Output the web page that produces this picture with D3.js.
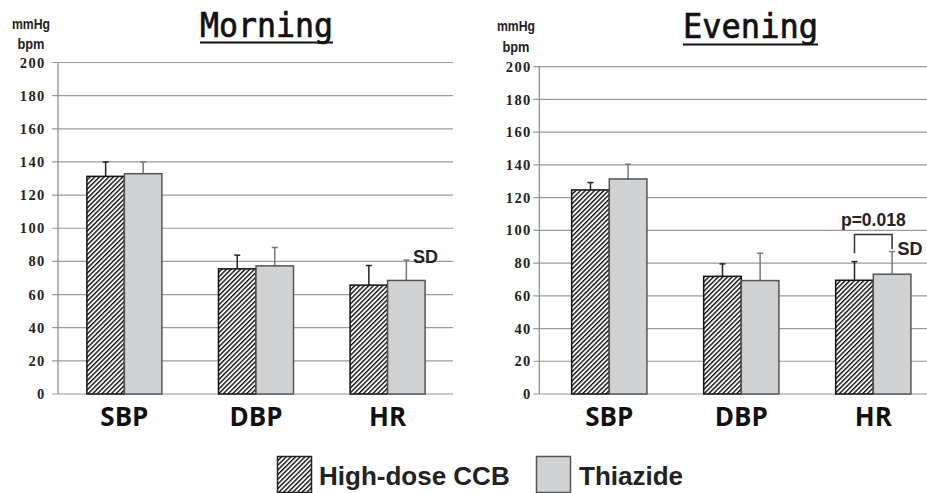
<!DOCTYPE html>
<html><head><meta charset="utf-8">
<script src="https://cdn.jsdelivr.net/npm/d3@7"></script>
<style>body{margin:0;background:#fff}svg{display:block}</style>
</head><body>
<script>
// ---- data ----
const categories = ["SBP", "DBP", "HR"];
const seriesNames = ["High-dose CCB", "Thiazide"];
const yTicks = [0, 20, 40, 60, 80, 100, 120, 140, 160, 180, 200];
const morningCCB = [131.3, 75.5, 65.7];
const morningCCBsd = [8.7, 8.3, 11.8];
const morningThz = [132.9, 77.3, 68.5];
const morningThzSd = [7.1, 11.1, 12.3];
const eveningCCB = [124.7, 71.9, 69.5];
const eveningCCBsd = [4.5, 7.6, 11.4];
const eveningThz = [131.4, 69.3, 73.2];
const eveningThzSd = [9.0, 16.7, 13.8];
const pLabel = "p=0.018";

const W = 927, H = 493;
const svg = d3.select("body").append("svg").attr("width", W).attr("height", H);
const defs = svg.append("defs");
const pat = defs.append("pattern").attr("id", "hatch").attr("patternUnits", "userSpaceOnUse")
  .attr("width", 3.3).attr("height", 10).attr("patternTransform", "rotate(45)");
pat.append("rect").attr("width", 3.3).attr("height", 10).attr("fill", "#fff");
pat.append("line").attr("x1", 0.7).attr("x2", 0.7).attr("y1", 0).attr("y2", 10)
  .attr("stroke", "#111").attr("stroke-width", 1.4);

const grayFill = "#d1d2d4";
const serifFont = "Liberation Serif, Times New Roman, DejaVu Serif, serif";
const narrowFont = "Liberation Sans Narrow, Arial Narrow, Liberation Sans, sans-serif";
const sansFont = "Liberation Sans, Arial, sans-serif";

const panels = [
  {title: "Morning", ccb: morningCCB, ccbSd: morningCCBsd, thz: morningThz, thzSd: morningThzSd,
   axisX: 58, gridEnd: 453, top: 62.5, bottom: 394, xr: [58.6, 453.4], tickX: 44,
   unitX: 31, unitY1: 29, unitY2: 50, titleX: 200, titleW: 133, titleY: 37, ulY: 42.5,
   sd: {x: 413, y: 263}},
  {title: "Evening", ccb: eveningCCB, ccbSd: eveningCCBsd, thz: eveningThz, thzSd: eveningThzSd,
   axisX: 539.3, gridEnd: 927, top: 66.7, bottom: 394, xr: [543.3, 939.3], tickX: 530,
   unitX: 516, unitY1: 31, unitY2: 53, titleX: 683, titleW: 135, titleY: 38, ulY: 44.5,
   sd: {x: 897.5, y: 254.5}, p: true}
];

panels.forEach(P => {
  const g = svg.append("g");
  const y = d3.scaleLinear().domain([0, 200]).range([P.bottom, P.top]);
  const x = d3.scaleBand().domain(categories).range(P.xr).paddingInner(0.43).paddingOuter(0.215);
  const xi = d3.scaleBand().domain(seriesNames).range([0, x.bandwidth()]);

  g.selectAll(".grid").data(yTicks).join("line")
    .attr("x1", P.axisX - 6).attr("x2", P.gridEnd)
    .attr("y1", d => y(d)).attr("y2", d => y(d))
    .attr("stroke", "#9a9a9a").attr("stroke-width", 1.2);
  g.append("line").attr("x1", P.axisX).attr("x2", P.axisX).attr("y1", P.top).attr("y2", P.bottom)
    .attr("stroke", "#888").attr("stroke-width", 1.2);
  g.selectAll(".tl").data(yTicks).join("text")
    .attr("x", P.tickX + 1.5).attr("y", d => y(d)).attr("dy", "0.35em")
    .attr("text-anchor", "end")
    .attr("font-family", serifFont).attr("font-weight", "bold")
    .attr("font-size", 14.5).attr("letter-spacing", "1.3px").attr("fill", "#222")
    .text(d => d);
  g.append("text").attr("x", P.unitX).attr("y", P.unitY1).attr("text-anchor", "middle")
    .attr("font-family", narrowFont).attr("font-weight", "bold")
    .attr("font-size", 15).attr("textLength", 38).attr("lengthAdjust", "spacingAndGlyphs")
    .attr("fill", "#222").text("mmHg");
  g.append("text").attr("x", P.unitX).attr("y", P.unitY2 - 1).attr("text-anchor", "middle")
    .attr("font-family", narrowFont).attr("font-weight", "bold")
    .attr("font-size", 15).attr("textLength", 27).attr("lengthAdjust", "spacingAndGlyphs")
    .attr("fill", "#222").text("bpm");
  g.append("text").attr("x", P.titleX).attr("y", P.titleY)
    .attr("font-family", "DejaVu Sans Mono, monospace").attr("font-size", 33)
    .attr("textLength", P.titleW).attr("lengthAdjust", "spacingAndGlyphs")
    .attr("fill", "#111").attr("stroke", "#111").attr("stroke-width", 0.7).text(P.title);
  g.append("line").attr("x1", P.titleX).attr("x2", P.titleX + P.titleW)
    .attr("y1", P.ulY).attr("y2", P.ulY).attr("stroke", "#111").attr("stroke-width", 2);

  const rows = categories.map((c, i) => ({c, i}));
  const series = [
    {name: seriesNames[0], vals: P.ccb, sd: P.ccbSd, fill: "url(#hatch)", stroke: "#111", ebar: "#222"},
    {name: seriesNames[1], vals: P.thz, sd: P.thzSd, fill: grayFill, stroke: "#555", ebar: "#777"}
  ];
  series.forEach(s => {
    g.selectAll(null).data(rows).join("line")
      .attr("x1", d => x(d.c) + xi(s.name) + xi.bandwidth() / 2)
      .attr("x2", d => x(d.c) + xi(s.name) + xi.bandwidth() / 2)
      .attr("y1", d => y(s.vals[d.i])).attr("y2", d => y(s.vals[d.i] + s.sd[d.i]))
      .attr("stroke", s.ebar).attr("stroke-width", 1.5);
    g.selectAll(null).data(rows).join("line")
      .attr("x1", d => x(d.c) + xi(s.name) + xi.bandwidth() / 2 - 3)
      .attr("x2", d => x(d.c) + xi(s.name) + xi.bandwidth() / 2 + 3)
      .attr("y1", d => y(s.vals[d.i] + s.sd[d.i])).attr("y2", d => y(s.vals[d.i] + s.sd[d.i]))
      .attr("stroke", s.ebar).attr("stroke-width", 1.5);
  });
  series.forEach(s => {
    g.selectAll(null).data(rows).join("rect")
      .attr("x", d => x(d.c) + xi(s.name)).attr("width", xi.bandwidth())
      .attr("y", d => y(s.vals[d.i])).attr("height", d => y(0) - y(s.vals[d.i]))
      .attr("fill", s.fill).attr("stroke", s.stroke).attr("stroke-width", 1.5);
  });
  g.selectAll(".cat").data(categories).join("text")
    .attr("x", d => x(d) + x.bandwidth() / 2).attr("y", 426)
    .attr("text-anchor", "middle")
    .attr("font-family", "Open Sans, sans-serif").attr("font-weight", "bold")
    .attr("font-size", 26).attr("fill", "#111").text(d => d);
  g.append("text").attr("x", P.sd.x).attr("y", P.sd.y)
    .attr("font-family", sansFont).attr("font-weight", "bold")
    .attr("font-size", 18).attr("fill", "#222").text("SD");
  if (P.p) {
    const hr = categories[2];
    const xa = x(hr) + xi(seriesNames[0]) + xi.bandwidth() / 2;
    const xb = x(hr) + xi(seriesNames[1]) + xi.bandwidth() / 2;
    const yTop = y(97.5);
    g.append("path")
      .attr("d", `M${xa},${y(86)}V${yTop}H${xb}V${y(88.5)}`)
      .attr("fill", "none").attr("stroke", "#333").attr("stroke-width", 1.5);
    g.append("text").attr("x", (xa + xb) / 2).attr("y", 226).attr("text-anchor", "middle")
      .attr("font-family", sansFont).attr("font-weight", "bold")
      .attr("font-size", 17.5).attr("fill", "#222").text(pLabel);
  }
});

const lg = svg.append("g");
const legendItems = [
  {name: seriesNames[0], fill: "url(#hatch)", stroke: "#222", bx: 277.5, tx: 319},
  {name: seriesNames[1], fill: grayFill, stroke: "#555", bx: 536.5, tx: 579}
];
legendItems.forEach(it => {
  lg.append("rect").attr("x", it.bx).attr("y", 456.5).attr("width", 34).attr("height", 36)
    .attr("fill", it.fill).attr("stroke", it.stroke).attr("stroke-width", 1.5);
  lg.append("text").attr("x", it.tx).attr("y", 485)
    .attr("font-family", sansFont).attr("font-weight", "bold")
    .attr("font-size", 26).attr("fill", "#222").text(it.name);
});
</script>
</body></html>
